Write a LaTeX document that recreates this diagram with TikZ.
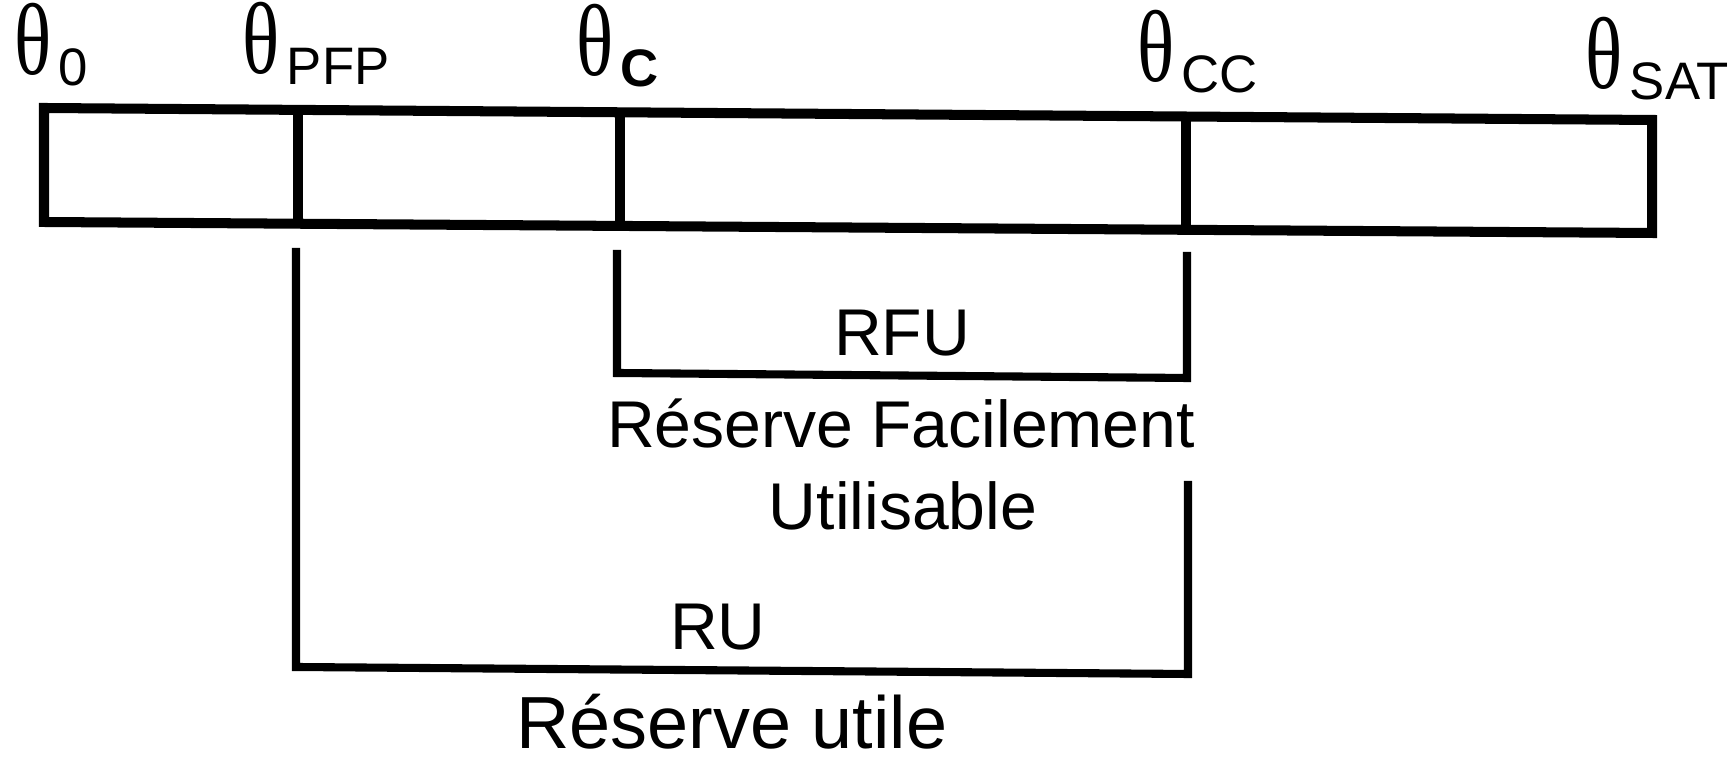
\documentclass[tikz,border=0pt]{standalone}
\usepackage{fontspec}
\setmainfont{Liberation Sans}
\newfontfamily\thetafont{Liberation Serif}
\newcommand\thlab[2][]{\scalebox{0.76}[1]{\thetafont\fontsize{29}{32}\selectfont θ}\kern2pt\raisebox{-3.1pt}{\fontsize{15}{17}\selectfont #1#2}}
\begin{document}
\begin{tikzpicture}[x=0.01cm,y=-0.01cm,
  boxline/.style={line width=2.85pt, line join=miter},
  brk/.style={line width=2.3pt, line join=miter},
  lbl/.style={inner sep=0pt, anchor=base, font=\fontsize{18.8}{22}\selectfont},
  thlbl/.style={inner sep=0pt, anchor=base west}]
\useasboundingbox (0,0) rectangle (1733,762);
% box corners
\coordinate (TL) at (44,108);
\coordinate (TR) at (1652,120);
\coordinate (BR) at (1652,233);
\coordinate (BL) at (44,222);
\draw[boxline] (TL) -- (TR) -- (BR) -- (BL) -- cycle;
% dividers
\coordinate (pfpT) at (298,110);  \coordinate (pfpB) at (298,224);
\coordinate (cT) at (620,112);    \coordinate (cB) at (620,226);
\coordinate (ccT) at (1186,117);  \coordinate (ccB) at (1186,230);
\draw[boxline] (pfpT) -- (pfpB);
\draw[boxline] (cT) -- (cB);
\draw[boxline] (ccT) -- (ccB);
% RFU bracket
\coordinate (rfu1) at (617,250);
\coordinate (rfu2) at (617,373);
\coordinate (rfu3) at (1187,378);
\coordinate (rfu4) at (1187,252);
\draw[brk] (rfu1) -- (rfu2) -- (rfu3) -- (rfu4);
% RU bracket
\coordinate (ru1) at (296,248);
\coordinate (ru2) at (296,667);
\coordinate (ru3) at (1188,674);
\coordinate (ru4) at (1188,481);
\draw[brk] (ru1) -- (ru2) -- (ru3) -- (ru4);
% theta labels
\node[thlbl] (t0) at (14,75) {\thlab{0}};
\node[thlbl] (tpfp) at (242,74) {\thlab{PFP}};
\node[thlbl] (tc) at (576,76) {\thlab[\bfseries]{C}};
\node[thlbl] (tcc) at (1137,82) {\thlab{CC}};
\node[thlbl] (tsat) at (1585,89) {\thlab{SAT}};
% texts
\node[lbl] (rfu) at (902,356) {RFU};
\node[lbl] (rfuname) at (901,448) {Réserve Facilement};
\node[lbl] (rfuname2) at (903,530) {Utilisable};
\node[lbl] (ru) at (718,650) {RU};
\node[lbl, font=\fontsize{21}{24}\selectfont] (runame) at (732,749) {Réserve utile};
\end{tikzpicture}
\end{document}
